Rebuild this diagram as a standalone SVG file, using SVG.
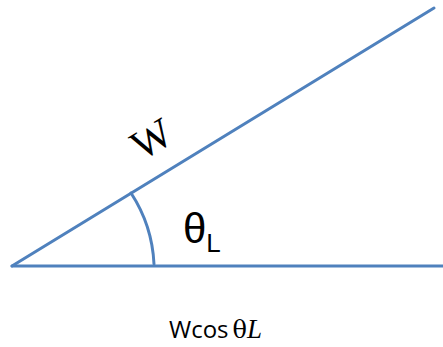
<svg xmlns="http://www.w3.org/2000/svg" width="443" height="347" viewBox="0 0 443 347">
<style>
.ln{stroke:#4f81bd;stroke-width:3;fill:none;stroke-linecap:round}
.t{fill:#000}
</style>
<rect width="443" height="347" fill="#fff"/>
<g id="connectors">
<line class="ln" x1="12" y1="266" x2="443" y2="266"/>
<line class="ln" x1="12" y1="266" x2="434" y2="8"/>
<path class="ln" d="M 131 193 A 142 142 0 0 1 154 264"/>
</g>
<g id="label-W">
<text class="t" x="152" y="153" font-family="Liberation Serif, serif" font-size="42" text-anchor="middle" transform="rotate(-31 152 140)">W</text>
</g>
<g id="label-theta">
<text class="t" x="183" y="243" font-family="Liberation Sans, sans-serif" font-size="42">θ<tspan font-size="26" dy="9">L</tspan></text>
</g>
<g id="label-wcos">
<text class="t" x="169" y="338" font-family="Open Sans, sans-serif" font-size="24">Wcos<tspan font-family="DejaVu Serif, serif" dx="4">θ</tspan><tspan font-family="Liberation Serif, serif" font-style="italic" font-size="27">L</tspan></text>
</g>
</svg>
